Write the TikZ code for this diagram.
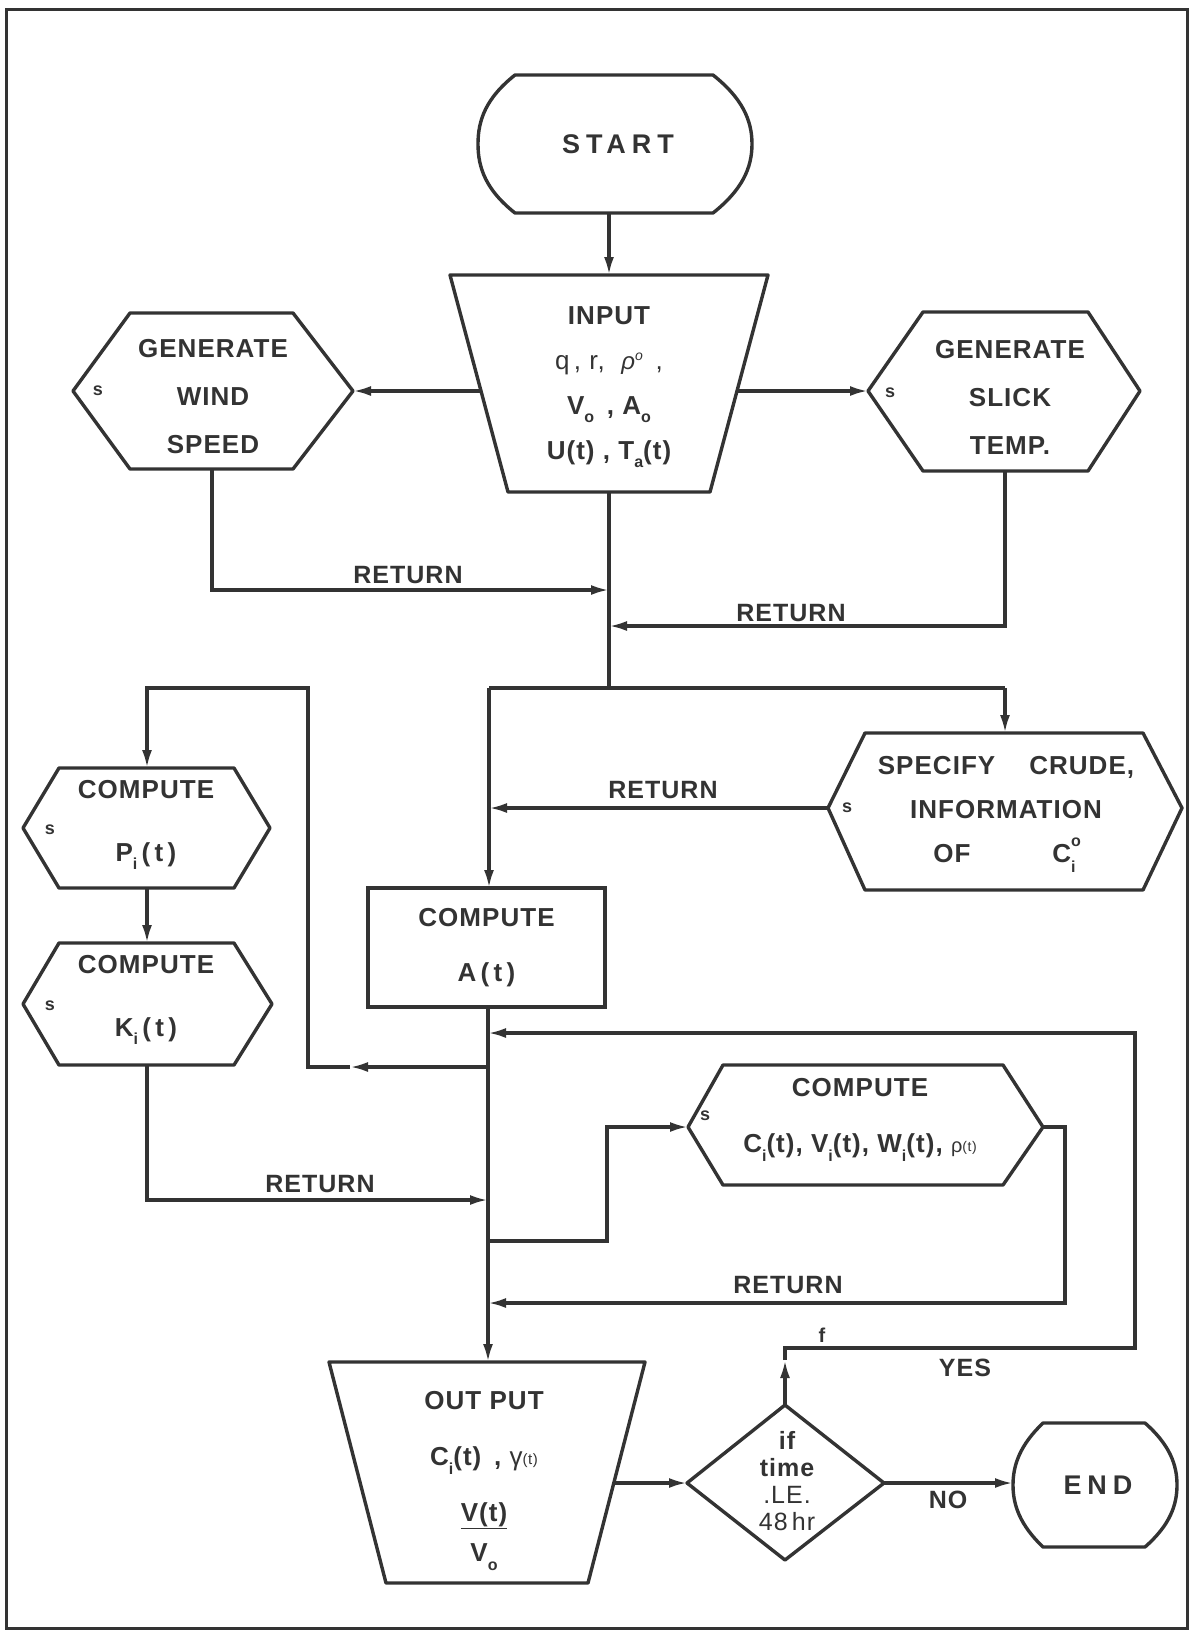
\documentclass[tikz,border=0pt]{standalone}
\usepackage{fontspec}
\setmainfont{Liberation Sans}[LetterSpace=4]
\newfontfamily\widefont{Liberation Sans}[LetterSpace=22]
\usetikzlibrary{arrows.meta}
\definecolor{ink}{gray}{0.2}
\newcommand\lo[1]{\raisebox{-0.32em}{\fontsize{16}{16}\selectfont #1}}
\newcommand\lohi[2]{\makebox[0pt][l]{\raisebox{0.62em}{\fontsize{16}{16}\selectfont #2}}\raisebox{-0.38em}{\fontsize{16}{16}\selectfont #1}\hspace{3pt}}
\begin{document}
\begin{tikzpicture}[x=1pt,y=-1pt,
  every node/.style={text=ink, font=\fontsize{26}{46}\selectfont\bfseries, align=center, inner sep=0pt},
  shp/.style={draw=ink, line width=3.4pt, line join=round},
  ln/.style={draw=ink, line width=3.2pt},
  arr/.style={ln, -{Latex[length=18pt,width=10pt]}},
  slab/.style={font=\fontsize{18}{18}\selectfont\bfseries},
  ret/.style={font=\fontsize{25}{25}\selectfont\bfseries},
  boxnode/.style={draw=ink, line width=3.4pt, minimum width=237pt, minimum height=119pt}]
\useasboundingbox (0,0) rectangle (1191,1633);
\draw[draw=ink, line width=3pt] (6,9) rectangle (1187,1628);

% START
\draw[shp] (515,75) -- (713,75) .. controls (742,98) and (752,120) .. (752,144)
  .. controls (752,168) and (742,190) .. (713,213) -- (515,213)
  .. controls (486,190) and (478,168) .. (478,144)
  .. controls (478,120) and (486,98) .. (515,75) -- cycle;
\node[font=\widefont\fontsize{27}{27}\selectfont\bfseries] (start) at (618,144) {START};
\coordinate (start-s) at (609,213);
\coordinate (inp-n) at (609,275);
\draw[arr] (start-s) -- (inp-n);

% INPUT
\draw[shp] (450,275) -- (768,275) -- (710,492) -- (508,492) -- cycle;
\node[font=\fontsize{26}{45}\selectfont\bfseries] (input) at (609,387)
  {INPUT\\{\mdseries q\,, r, \ {\fontsize{24}{24}\selectfont\itshape ρ\raisebox{0.35em}{\fontsize{14}{14}\selectfont o}} \,,}\\V\lo{o} \,, A\lo{o}\\U(t) , T\lo{a}(t)};
\coordinate (inp-w) at (481,391);
\coordinate (inp-e) at (737,391);
\coordinate (inp-s) at (609,492);

% GENERATE WIND SPEED
\draw[shp] (73,391) -- (130,313) -- (293,313) -- (353,391) -- (293,469) -- (130,469) -- cycle;
\node[font=\fontsize{26}{48}\selectfont\bfseries] (wind) at (213,397) {GENERATE\\WIND\\SPEED};
\node[slab] (wind-s) at (98,391) {s};
\coordinate (wind-e) at (353,391);
\coordinate (wind-b) at (212,469);
\draw[arr] (inp-w) -- (wind-e);

% GENERATE SLICK TEMP
\draw[shp] (868,391) -- (923,312) -- (1088,312) -- (1140,391) -- (1088,471) -- (923,471) -- cycle;
\node[font=\fontsize{26}{48}\selectfont\bfseries] (slick) at (1010,397) {GENERATE\\SLICK\\TEMP.};
\node[slab] (slick-s) at (890,393) {s};
\coordinate (slick-w) at (868,391);
\coordinate (slick-b) at (1005,471);
\draw[arr] (inp-e) -- (slick-w);

% returns to main line
\coordinate (m1) at (609,590);
\coordinate (m2) at (609,626);
\draw[arr] (wind-b) |- (m1);
\draw[arr] (slick-b) |- (m2);
\node[ret] (ret1) at (408,575) {RETURN};
\node[ret] (ret2) at (791,613) {RETURN};

\coordinate (j1) at (609,688);
\coordinate (jl) at (489,688);
\coordinate (jr) at (1005,688);
\draw[ln] (inp-s) -- (j1);
\draw[ln] (jl) -- (jr);

% SPECIFY
\draw[shp] (828,808) -- (865,733) -- (1143,733) -- (1182,808) -- (1143,890) -- (865,890) -- cycle;
\node[font=\fontsize{26}{44}\selectfont\bfseries] (spec) at (1006,814)
  {SPECIFY\hspace{34pt}CRUDE,\\INFORMATION\\OF\hspace{82pt}C\lohi{i}{o}\hspace{36pt}};
\node[slab] (spec-s) at (847,808) {s};
\coordinate (spec-n) at (1005,733);
\coordinate (spec-w) at (828,808);
\coordinate (spec-r) at (489,808);
\draw[arr] (jr) -- (spec-n);
\draw[arr] (spec-w) -- (spec-r);
\node[ret] (ret3) at (663,790) {RETURN};

% COMPUTE A(t)
\node[boxnode, font=\fontsize{26}{55}\selectfont\bfseries] (at) at (486.5,947.5) {COMPUTE\\A\,(\,t\,)};
\coordinate (at-n) at (489,888);
\coordinate (at-s) at (488,1007);
\draw[arr] (jl) -- (at-n);

% OUTPUT
\coordinate (out-n) at (488,1362);
\draw[arr] (at-s) -- (out-n);
\draw[shp] (329,1362) -- (645,1362) -- (588,1583) -- (386,1583) -- cycle;
\node[font=\fontsize{26}{56}\selectfont\bfseries] (output) at (484,1481)
  {OUT PUT\\C\lo{i}(t) \,, {\mdseries γ\raisebox{0.05em}{\fontsize{15}{15}\selectfont(t)}}\\\underline{V(t)}\\[-16pt]V\lo{o}};
\coordinate (out-e) at (614,1483);

% left loop
\coordinate (j4) at (488,1067);
\coordinate (m4) at (350,1067);
\coordinate (c4) at (308,1067);
\coordinate (c5) at (308,688);
\coordinate (c6) at (147,688);
\coordinate (pi-n) at (147,768);
\draw[arr] (j4) -- (m4);
\draw[arr] (m4) -- (c4) -- (c5) -- (c6) -- (pi-n);

% COMPUTE Pi
\draw[shp] (23,828) -- (59,768) -- (234,768) -- (270,828) -- (234,888) -- (59,888) -- cycle;
\node[font=\fontsize{26}{63}\selectfont\bfseries] (pi) at (146,825) {COMPUTE\\P\lo{i}\,(\,t\,)};
\node[slab] (pi-s) at (50,830) {s};
\coordinate (pi-b) at (147,888);
\coordinate (ki-n) at (147,943);
\draw[arr] (pi-b) -- (ki-n);

% COMPUTE Ki
\draw[shp] (23,1004) -- (59,943) -- (234,943) -- (272,1004) -- (234,1065) -- (59,1065) -- cycle;
\node[font=\fontsize{26}{63}\selectfont\bfseries] (ki) at (146,1000) {COMPUTE\\K\lo{i}\,(\,t\,)};
\node[slab] (ki-s) at (50,1006) {s};
\coordinate (ki-b) at (147,1065);
\coordinate (kr) at (488,1200);
\draw[arr] (ki-b) |- (kr);
\node[ret] (ret4) at (320,1184) {RETURN};

% COMPUTE C
\coordinate (j5) at (488,1241);
\coordinate (c7) at (607,1241);
\coordinate (cc-w) at (688,1127);
\draw[arr] (j5) -- (c7) |- (cc-w);
\draw[shp] (688,1127) -- (723,1065) -- (1003,1065) -- (1043,1127) -- (1003,1185) -- (723,1185) -- cycle;
\node[font=\fontsize{26}{56}\selectfont\bfseries] (cc) at (860,1120)
  {COMPUTE\\C\lo{i}(t), V\lo{i}(t), W\lo{i}(t), {\mdseries\fontsize{20}{20}\selectfont ρ\raisebox{0.05em}{\fontsize{14}{14}\selectfont(t)}}};
\node[slab] (cc-s) at (705,1116) {s};
\coordinate (cc-e) at (1043,1127);
\coordinate (c8) at (1065,1127);
\coordinate (cr) at (488,1303);
\draw[arr] (cc-e) -- (c8) |- (cr);
\node[ret] (ret5) at (788,1285) {RETURN};

% decision
\coordinate (dec-w) at (687,1483);
\coordinate (dec-n) at (785,1405);
\coordinate (dec-e) at (884,1483);
\draw[arr] (out-e) -- (dec-w);
\draw[shp] (687,1483) -- (785,1405) -- (884,1483) -- (785,1560) -- cycle;
\node[font=\fontsize{25}{27}\selectfont\bfseries] (dec) at (787,1481)
  {if\\time\\{\mdseries .LE.}\\{\mdseries 48\,hr}};

% YES loop
\coordinate (m6) at (785,1360);
\coordinate (c9) at (785,1348);
\coordinate (c10) at (1135,1348);
\coordinate (c11) at (1135,1033);
\coordinate (lr) at (488,1033);
\draw[arr] (dec-n) -- (m6);
\draw[arr] (m6) -- (c9) -- (c10) -- (c11) -- (lr);
\node[font=\fontsize{20}{20}\selectfont\bfseries] (flab) at (822,1335) {f};
\node[ret] (yes) at (965,1368) {YES};

% END
\coordinate (end-w) at (1013,1483);
\draw[arr] (dec-e) -- (end-w);
\node[ret] (no) at (948,1500) {NO};
\draw[shp] (1043,1423) -- (1145,1423) .. controls (1170,1445) and (1177,1465) .. (1177,1485)
  .. controls (1177,1505) and (1170,1525) .. (1145,1547) -- (1043,1547)
  .. controls (1020,1525) and (1013,1505) .. (1013,1485)
  .. controls (1013,1465) and (1020,1445) .. (1043,1423) -- cycle;
\node[font=\widefont\fontsize{27}{27}\selectfont\bfseries] (end) at (1098,1485) {END};
\end{tikzpicture}
\end{document}
